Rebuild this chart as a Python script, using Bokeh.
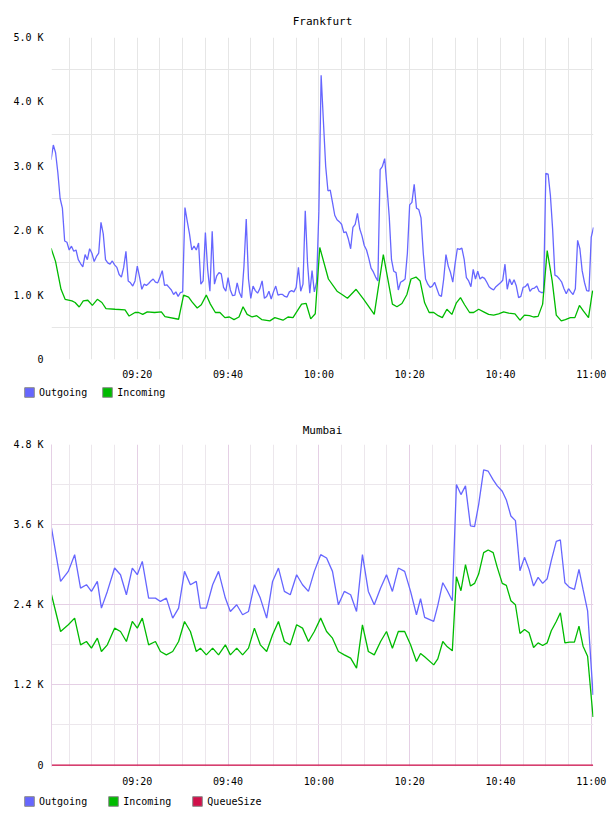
from datetime import datetime, timedelta

from bokeh.embed import file_html
from bokeh.layouts import column
from bokeh.models import DatetimeTickFormatter, FixedTicker, Legend, LegendItem, Range1d
from bokeh.plotting import figure
from bokeh.resources import INLINE

# ---------------------------------------------------------------- data
# Frankfurt, outgoing: one sample every 30 s starting 09:01:00 (values in K)
fra_out_start_min = 1.0
fra_out_step_min = 0.5
fra_outgoing_k = [
    3.10, 3.33, 3.21, 2.90, 2.50, 2.35, 1.84, 1.82, 1.70, 1.76,
    1.68, 1.70, 1.55, 1.49, 1.44, 1.63, 1.55, 1.72, 1.65, 1.52,
    1.60, 1.65, 2.13, 1.95, 1.55, 1.50, 1.48, 1.53, 1.47, 1.43,
    1.32, 1.28, 1.43, 1.68, 1.22, 1.19, 1.14, 1.22, 1.45, 1.28,
    1.09, 1.17, 1.15, 1.18, 1.22, 1.25, 1.20, 1.19, 1.28, 1.38,
    1.15, 1.16, 1.12, 1.08, 1.01, 1.05, 0.98, 1.04, 1.05, 2.36,
    2.15, 1.95, 1.70, 1.76, 1.70, 1.81, 1.17, 1.22, 1.97, 1.40,
    1.06, 1.99, 1.17, 1.30, 1.35, 1.33, 1.12, 1.06, 1.27, 1.08,
    0.99, 1.00, 1.19, 1.04, 0.96, 1.45, 2.18, 1.25, 0.95, 1.14,
    1.07, 1.03, 1.10, 1.22, 0.95, 0.98, 1.06, 0.94, 1.05, 1.14,
    1.00, 1.01, 1.01, 0.98, 0.97, 1.05, 1.07, 1.05, 1.12, 1.43,
    1.06, 1.17, 2.31, 1.50, 1.03, 1.38, 1.05, 1.20, 2.30, 4.415,
    3.70, 3.00, 2.62, 2.63, 2.44, 2.24, 2.17, 2.14, 2.10, 1.97,
    1.98, 1.87, 1.72, 2.05, 2.10, 2.27, 2.03, 1.92, 1.77, 1.70,
    1.57, 1.42, 1.36, 1.28, 1.22, 2.95, 3.00, 3.12, 2.68, 2.22,
    1.55, 1.37, 1.35, 1.08, 1.20, 1.22, 1.25, 1.65, 2.40, 2.44,
    2.72, 2.35, 2.33, 2.20, 1.65, 1.25, 1.17, 1.12, 1.14, 1.20,
    1.10, 1.00, 0.98, 1.25, 1.63, 1.45, 1.35, 1.20, 1.48, 1.72,
    1.71, 1.73, 1.56, 1.27, 1.22, 1.13, 1.40, 1.25, 1.37, 1.25,
    1.28, 1.26, 1.20, 1.13, 1.10, 1.08, 1.13, 1.16, 1.19, 1.23,
    1.48, 1.09, 1.25, 1.16, 1.24, 1.14, 0.96, 0.98, 1.12, 1.13,
    1.18, 1.06, 1.10, 1.11, 1.14, 1.06, 1.04, 1.04, 2.89, 2.88,
    2.55, 2.02, 1.31, 1.29, 1.25, 1.20, 1.10, 1.02, 1.10, 1.05,
    1.01, 1.10, 1.85, 1.72, 1.38, 1.20, 1.07, 1.06, 1.90, 2.05,
]

# Frankfurt, incoming: irregular samples (minutes after 09:00, values in K)
fra_incoming_min = [
    1.0, 2.0, 3.2, 4.1, 5.6, 6.3, 7.2, 8.1, 9.1, 10.1,
    11.2, 12.2, 13.1, 15.1, 17.3, 18.2, 19.5, 20.3, 21.2, 22.2,
    23.8, 25.3, 26.1, 29.1, 30.2, 31.3, 32.1, 33.2, 34.1, 35.2,
    36.1, 37.2, 38.2, 39.3, 40.3, 41.3, 42.4, 43.3, 44.2, 45.3,
    46.3, 47.4, 49.2, 50.3, 52.1, 53.2, 54.3, 56.2, 57.2, 58.2,
    59.2, 60.2, 62.1, 64.0, 65.1, 66.3, 68.2, 69.8, 72.2, 74.2,
    76.2, 77.2, 78.3, 79.4, 80.3, 81.4, 82.3, 83.3, 84.3, 85.3,
    86.3, 87.2, 88.2, 89.3, 90.3, 91.2, 92.1, 93.2, 94.1, 95.2,
    96.3, 97.4, 98.5, 99.6, 100.7, 101.8, 103.2, 104.3, 105.3, 106.4,
    107.3, 108.3, 109.3, 110.3, 111.4, 112.3, 113.4, 114.3, 115.4, 116.4,
    117.4, 118.3, 119.4, 120.3,
]
fra_incoming_k = [
    1.73, 1.52, 1.09, 0.935, 0.91, 0.885, 0.815, 0.91, 0.92, 0.84,
    0.935, 0.885, 0.79, 0.78, 0.77, 0.675, 0.73, 0.73, 0.70, 0.74,
    0.73, 0.74, 0.665, 0.625, 1.00, 0.97, 0.89, 0.80, 0.85, 1.00,
    0.86, 0.73, 0.73, 0.65, 0.66, 0.62, 0.66, 0.82, 0.70, 0.66,
    0.68, 0.62, 0.60, 0.65, 0.61, 0.66, 0.65, 0.86, 0.87, 0.63,
    0.71, 1.74, 1.25, 1.06, 1.01, 0.95, 1.09, 0.94, 0.70, 1.63,
    0.86, 0.82, 0.87, 1.01, 1.25, 1.28, 1.22, 0.88, 0.73, 0.73,
    0.68, 0.65, 0.78, 0.70, 0.88, 0.96, 0.85, 0.73, 0.73, 0.78,
    0.74, 0.70, 0.69, 0.71, 0.74, 0.72, 0.71, 0.61, 0.69, 0.68,
    0.66, 0.67, 0.86, 1.69, 1.22, 0.69, 0.60, 0.62, 0.65, 0.65,
    0.84, 0.75, 0.65, 1.07,
]

# Mumbai: samples (minutes after 09:00, values in K)
mum_min = [
    1.1, 3.1, 4.8, 6.2, 7.5, 8.8, 9.9, 11.2, 12.1, 13.4,
    15.0, 16.3, 17.6, 18.9, 20.0, 21.1, 22.5, 24.0, 25.1, 26.4,
    27.8, 29.1, 30.4, 31.7, 33.0, 33.9, 35.2, 36.6, 37.9, 39.4,
    40.5, 41.9, 43.2, 44.5, 45.8, 47.1, 48.5, 49.8, 51.1, 52.4,
    53.7, 55.1, 56.4, 57.7, 59.0, 60.4, 61.7, 63.0, 64.3, 65.6,
    67.0, 68.3, 69.6, 70.9, 72.2, 73.6, 74.9, 76.2, 77.5, 78.9,
    80.2, 81.5, 82.4, 83.3, 85.3, 86.2, 87.3, 88.3, 89.4, 90.3,
    91.3, 92.3, 93.4, 94.3, 95.2, 96.3, 97.3, 98.4, 99.3, 100.4,
    101.3, 102.3, 103.3, 104.3, 105.3, 106.3, 107.3, 108.3, 109.3, 110.3,
    111.2, 112.3, 113.2, 114.2, 115.2, 116.3, 117.3, 118.2, 119.2, 120.4,
]
mum_outgoing_k = [
    3.55, 2.75, 2.90, 3.15, 2.65, 2.70, 2.60, 2.75, 2.35, 2.60,
    2.95, 2.85, 2.55, 2.95, 2.85, 3.05, 2.50, 2.50, 2.45, 2.50,
    2.20, 2.35, 2.90, 2.70, 2.75, 2.35, 2.35, 2.70, 2.90, 2.50,
    2.30, 2.40, 2.25, 2.30, 2.70, 2.50, 2.20, 2.75, 2.95, 2.60,
    2.55, 2.85, 2.70, 2.60, 2.90, 3.15, 3.10, 2.90, 2.40, 2.60,
    2.55, 2.30, 3.15, 2.60, 2.40, 2.65, 2.85, 2.60, 2.95, 2.90,
    2.60, 2.25, 2.49, 2.21, 2.15, 2.39, 2.73, 2.61, 2.46, 4.20,
    4.05, 4.18, 3.58, 3.57, 3.90, 4.42, 4.40, 4.27, 4.18, 4.10,
    3.97, 3.73, 3.66, 2.91, 3.11, 2.93, 2.68, 2.81, 2.72, 2.79,
    3.06, 3.35, 3.37, 2.73, 2.66, 2.63, 2.93, 2.63, 2.31, 1.05,
]
mum_incoming_k = [
    2.55, 2.00, 2.10, 2.20, 1.80, 1.85, 1.75, 1.90, 1.70, 1.80,
    2.05, 2.00, 1.85, 2.15, 2.05, 2.20, 1.80, 1.85, 1.70, 1.65,
    1.70, 1.85, 2.15, 2.00, 1.70, 1.75, 1.65, 1.75, 1.65, 1.80,
    1.65, 1.75, 1.65, 1.75, 2.05, 1.80, 1.70, 1.95, 2.15, 1.85,
    1.80, 2.10, 2.05, 1.85, 2.00, 2.20, 2.00, 1.90, 1.70, 1.65,
    1.60, 1.45, 2.10, 1.70, 1.65, 1.85, 2.00, 1.75, 2.00, 2.00,
    1.80, 1.55, 1.67, 1.62, 1.50, 1.59, 1.85, 1.77, 1.71, 2.82,
    2.61, 3.00, 2.68, 2.72, 2.86, 3.18, 3.22, 3.18, 2.96, 2.72,
    2.69, 2.46, 2.40, 1.97, 2.03, 1.98, 1.76, 1.83, 1.79, 1.83,
    2.01, 2.15, 2.28, 1.83, 1.84, 1.84, 2.08, 1.78, 1.63, 0.72,
]
mum_queue_size = [
    0, 0, 0, 0, 0, 0, 0, 0, 0, 0, 0, 0, 0, 0, 0, 0, 0, 0, 0, 0,
    0, 0, 0, 0, 0, 0, 0, 0, 0, 0, 0, 0, 0, 0, 0, 0, 0, 0, 0, 0,
    0, 0, 0, 0, 0, 0, 0, 0, 0, 0, 0, 0, 0, 0, 0, 0, 0, 0, 0, 0,
    0, 0, 0, 0, 0, 0, 0, 0, 0, 0, 0, 0, 0, 0, 0, 0, 0, 0, 0, 0,
    0, 0, 0, 0, 0, 0, 0, 0, 0, 0, 0, 0, 0, 0, 0, 0, 0, 0, 0, 0,
]

# axis ticks
time_label_min = [20, 40, 60, 80, 100, 120]
time_grid_min = [5, 10, 15, 20, 25, 30, 35, 40, 45, 50, 55, 60,
                 65, 70, 75, 80, 85, 90, 95, 100, 105, 110, 115, 120]
fra_y_ticks = [0, 1000, 2000, 3000, 4000, 5000]
fra_y_labels = ["0", "1.0 K", "2.0 K", "3.0 K", "4.0 K", "5.0 K"]
fra_y_grid = [500, 1500, 2500, 3500, 4500]
mum_y_ticks = [0, 1200, 2400, 3600, 4800]
mum_y_labels = ["0", "1.2 K", "2.4 K", "3.6 K", "4.8 K"]
mum_y_minor_grid = [600, 1800, 3000, 4200]

# ---------------------------------------------------------------- style
FONT = "DejaVu Sans Mono"
BLUE = "#6666ff"
GREEN = "#00bb00"
CRIMSON = "#d0104a"
GRID_GREY = "#e6e6e6"
GRID_PINK = "#e5d0e5"
GRID_PINK_MINOR = "#ece7ec"
SWATCH_EDGE = "#8a8a8a"

WIDTH = 608
CHART_H = 383
LEGEND_H = 25

START = datetime(2014, 3, 12, 9, 0)
EPOCH = datetime(1970, 1, 1)
NAN = float("nan")


def clock(minutes):
    return START + timedelta(minutes=minutes)


def ms(minutes):
    return (clock(minutes) - EPOCH).total_seconds() * 1000.0


def kilo(values):
    return [v * 1000.0 for v in values]


fra_out_times = [clock(fra_out_start_min + i * fra_out_step_min)
                 for i in range(len(fra_outgoing_k))]


def make_chart(title, y_lo, y_hi, y_ticks, y_labels, border_top, title_gap):
    p = figure(
        frame_width=542, frame_height=322,
        min_border_left=51, min_border_right=WIDTH - 51 - 542,
        min_border_top=border_top, min_border_bottom=CHART_H - border_top - 322,
        x_axis_type="datetime",
        x_range=Range1d(clock(1.1), clock(120.5)),
        y_range=Range1d(y_lo, y_hi),
        output_backend="svg", toolbar_location=None, title=title,
    )
    p.outline_line_color = None
    p.title.align = "center"
    p.title.text_font = FONT
    p.title.text_font_size = "11px"
    p.title.text_font_style = "normal"
    p.title.text_color = "#000000"
    p.title.standoff = title_gap

    for ax in (p.xaxis[0], p.yaxis[0]):
        ax.axis_line_color = None
        ax.major_tick_line_color = None
        ax.minor_tick_line_color = None
        ax.major_tick_out = 0
        ax.minor_tick_out = 0
        ax.major_label_text_font = FONT
        ax.major_label_text_font_size = "10px"
        ax.major_label_text_color = "#000000"

    p.yaxis.ticker = FixedTicker(ticks=y_ticks)
    p.yaxis.major_label_overrides = dict(zip(y_ticks, y_labels))
    p.yaxis.major_label_standoff = 8

    p.xaxis.ticker = FixedTicker(ticks=[ms(m) for m in time_label_min])
    fmt = "%H:%M"
    p.xaxis.formatter = DatetimeTickFormatter(
        minsec=fmt, minutes=fmt, hourmin=fmt, hours=fmt, context=None)
    p.xaxis.major_label_standoff = 9
    return p


def make_legend_strip(entries, spacing, lift):
    """A thin, axis-free strip that only carries the series legend."""
    s = figure(
        frame_width=WIDTH, frame_height=LEGEND_H,
        min_border_left=0, min_border_right=0, min_border_top=0, min_border_bottom=0,
        x_range=Range1d(0, 1), y_range=Range1d(0, 1),
        x_axis_location=None, y_axis_location=None,
        output_backend="svg", toolbar_location=None,
    )
    s.outline_line_color = None
    s.grid.visible = False
    items = []
    for name, color in entries:
        # a placeholder quad (NaN extent, so nothing is drawn in the strip)
        # whose styling supplies the square swatch of the legend entry
        swatch = s.quad(left=[NAN], right=[NAN], top=[NAN], bottom=[NAN],
                        fill_color=color, line_color=SWATCH_EDGE, line_width=1)
        items.append(LegendItem(label=name, renderers=[swatch]))
    legend = Legend(
        items=items, location=(23, lift), orientation="horizontal",
        padding=0, margin=0, spacing=spacing,
        glyph_width=12, glyph_height=12, label_height=12, label_standoff=4,
        label_text_font=FONT, label_text_font_size="10px",
        label_text_color="#000000",
        border_line_color=None, background_fill_alpha=0,
    )
    s.add_layout(legend)
    return s


# ---------------------------------------------------------------- Frankfurt
fra = make_chart("Frankfurt", 0, 5000, fra_y_ticks, fra_y_labels, 37, 19)
fra.xgrid.ticker = FixedTicker(ticks=[ms(m) for m in time_grid_min])
fra.xgrid.grid_line_color = GRID_GREY
fra.ygrid.ticker = FixedTicker(ticks=fra_y_grid)
fra.ygrid.grid_line_color = GRID_GREY

fra.line(fra_out_times, kilo(fra_outgoing_k), line_color=BLUE, line_width=1.3)
fra.line([clock(m) for m in fra_incoming_min], kilo(fra_incoming_k),
         line_color=GREEN, line_width=1.3)
fra_legend = make_legend_strip([("Outgoing", BLUE), ("Incoming", GREEN)], 14, 10)

# ---------------------------------------------------------------- Mumbai
# the range starts a little below zero so the QueueSize line at 0 stays visible
mum = make_chart("Mumbai", -22, 4800, mum_y_ticks, mum_y_labels, 36, 16)
mum.xgrid.ticker = FixedTicker(
    ticks=[ms(m) for m in time_label_min],
    minor_ticks=[ms(m) for m in time_grid_min if m not in time_label_min])
mum.xgrid.grid_line_color = GRID_PINK
mum.xgrid.minor_grid_line_color = GRID_PINK_MINOR
mum.ygrid.ticker = FixedTicker(ticks=mum_y_ticks, minor_ticks=mum_y_minor_grid)
mum.ygrid.grid_line_color = GRID_PINK
mum.ygrid.minor_grid_line_color = GRID_PINK_MINOR
mum.yaxis.axis_line_color = GRID_PINK

mum_times = [clock(m) for m in mum_min]
mum.line(mum_times, kilo(mum_outgoing_k), line_color=BLUE, line_width=1.3)
mum.line(mum_times, kilo(mum_incoming_k), line_color=GREEN, line_width=1.3)
mum.line(mum_times, mum_queue_size, line_color=CRIMSON, line_width=1.3)
mum_legend = make_legend_strip(
    [("Outgoing", BLUE), ("Incoming", GREEN), ("QueueSize", CRIMSON)], 20, 9)

layout = column(fra, fra_legend, mum, mum_legend, spacing=0)
with open("out.html", "w") as fh:
    fh.write(file_html(layout, INLINE))
